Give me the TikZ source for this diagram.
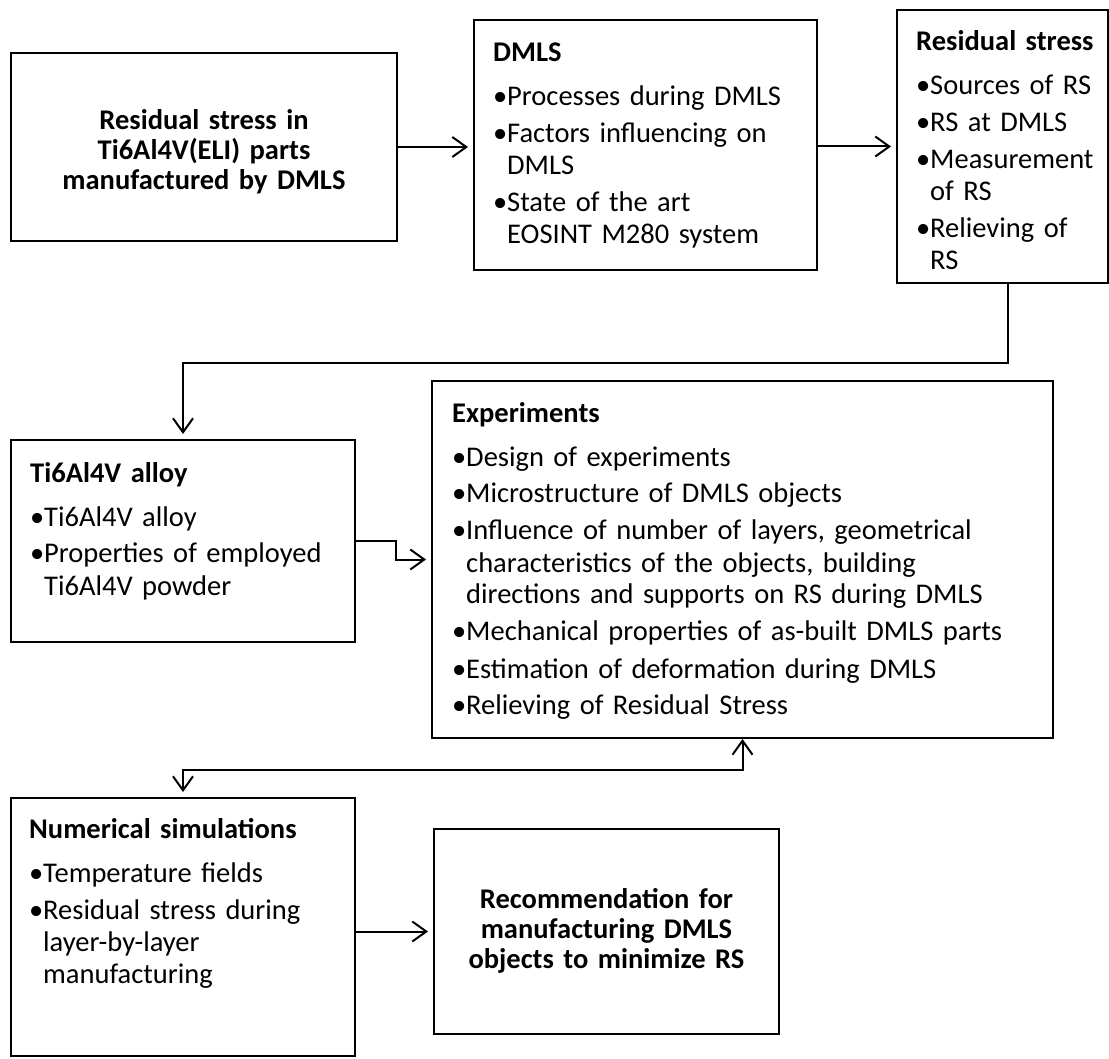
\documentclass[tikz,border=0pt]{standalone}
\usepackage{fontspec}
\setmainfont{Carlito}
\usetikzlibrary{arrows.meta}
% bullet with a hanging continuation indent
\newcommand\itembul{\makebox[14pt][l]{•}}
\newcommand\itemcont{\hspace*{14pt}}
\begin{document}
\begin{tikzpicture}[x=1pt,y=-1pt,
  box/.style={draw, line width=2pt, inner sep=0pt},
  list/.style={anchor=base west, inner sep=0pt, align=left, text width=#1,
    font=\fontsize{28.5}{32}\selectfont},
  centred/.style={anchor=base, inner sep=0pt, align=center, text width=#1,
    font=\fontsize{28.5}{30}\selectfont\bfseries},
  link/.style={line width=2pt,
    -{Straight Barb[length=14pt,width=20pt]}, shorten >=5pt},
  twoway/.style={line width=2pt,
    {Straight Barb[length=14pt,width=20pt]}-{Straight Barb[length=14pt,width=20pt]},
    shorten >=5pt}
]
\useasboundingbox (0,0) rectangle (1109,1059);

% boxes
\node[box, minimum width=386, minimum height=188] (goal)  at (204,147) {};
\node[box, minimum width=343, minimum height=250] (dmls)  at (645.5,145) {};
\node[box, minimum width=211, minimum height=273] (rs)    at (1002.5,146.5) {};
\node[box, minimum width=344, minimum height=202] (alloy) at (183,541) {};
\node[box, minimum width=621, minimum height=357] (exp)   at (742.5,559.5) {};
\node[box, minimum width=344, minimum height=258] (num)   at (183,927) {};
\node[box, minimum width=345, minimum height=205] (rec)   at (606.5,931.5) {};

% box contents
\node[centred=370] (goal-text) at (204,130)
  {Residual stress in\\ Ti6Al4V(ELI) parts\\ manufactured by DMLS};

\node[list=320] (dmls-text) at (493,62)
  {\textbf{DMLS}\\[12pt]
   \itembul Processes during DMLS\\[5pt]
   \itembul Factors influencing on\\ \itemcont DMLS\\[5pt]
   \itembul State of the art\\ \itemcont EOSINT M280 system};

\node[list=190] (rs-text) at (916,51)
  {\textbf{Residual stress}\\[12pt]
   \itembul Sources of RS\\[5pt]
   \itembul RS at DMLS\\[5pt]
   \itembul Measurement\\ \itemcont of RS\\[5pt]
   \itembul Relieving of\\ \itemcont RS};

\node[list=320] (alloy-text) at (30,482)
  {\textbf{Ti6Al4V alloy}\\[12pt]
   \itembul Ti6Al4V alloy\\[5pt]
   \itembul Properties of employed\\ \itemcont Ti6Al4V powder};

\node[list=590] (exp-text) at (452,422)
  {\textbf{Experiments}\\[12pt]
   \itembul Design of experiments\\[5pt]
   \itembul Microstructure of DMLS objects\\[5pt]
   \itembul Influence of number of layers, geometrical\\
   \itemcont characteristics of the objects, building\\
   \itemcont directions and supports on RS during DMLS\\[5pt]
   \itembul Mechanical properties of as-built DMLS parts\\[5pt]
   \itembul Estimation of deformation during DMLS\\[5pt]
   \itembul Relieving of Residual Stress};

\node[list=320] (num-text) at (29,838)
  {\textbf{Numerical simulations}\\[12pt]
   \itembul Temperature fields\\[5pt]
   \itembul Residual stress during\\ \itemcont layer-by-layer\\ \itemcont manufacturing};

\node[centred=330] (rec-text) at (606.5,908)
  {Recommendation for\\ manufacturing DMLS\\ objects to minimize RS};

% connectors
\draw[link] (goal.east) -- (goal.east -| dmls.west);
\draw[link] (dmls.east |- rs.west) -- (rs.west);
\draw[link] ([xshift=5.5pt]rs.south) -- ++(0,79) -| (alloy.north);
\draw[link] (alloy.east) -- ++(40,0) |- (exp.west);
\draw[twoway, shorten <=0pt] (exp.south) -- ++(0,31) -| (num.north);
\draw[link] (num.east |- rec.west) -- (rec.west);
\end{tikzpicture}
\end{document}
